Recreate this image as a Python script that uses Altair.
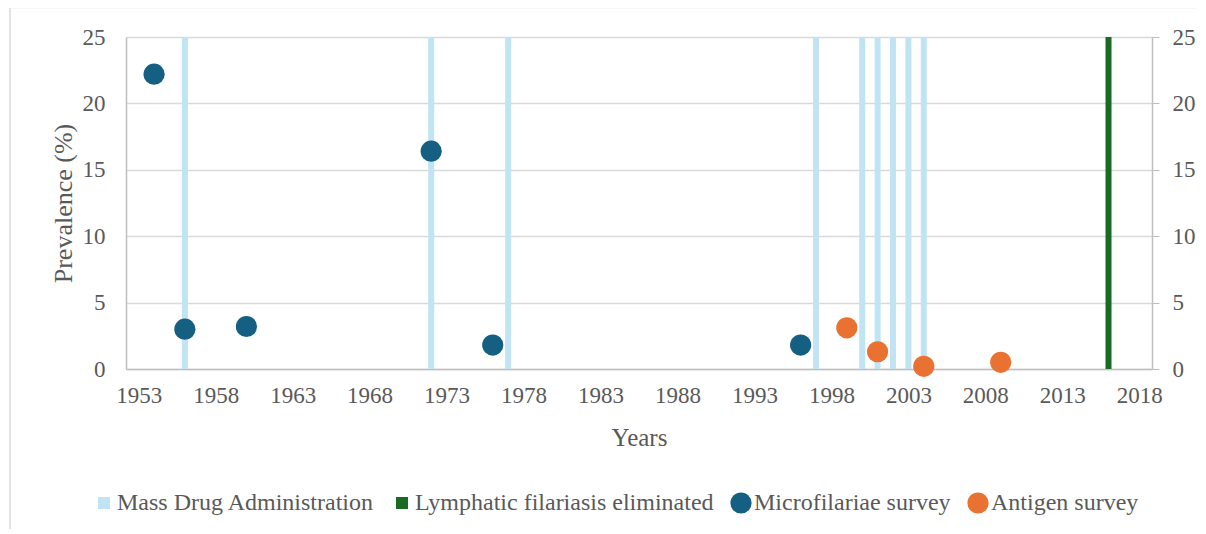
import altair as alt
import pandas as pd

# ---- data ----
mda_years = [1956, 1972, 1977, 1997, 2000, 2001, 2002, 2003, 2004]
mda_height = [25, 25, 25, 25, 25, 25, 25, 25, 25]
elim_years = [2016]
elim_height = [25]
mf_years = [1954, 1956, 1960, 1972, 1976, 1996]
mf_values = [22.2, 3.0, 3.2, 16.4, 1.8, 1.8]
ag_years = [1999, 2001, 2004, 2009]
ag_values = [3.1, 1.3, 0.2, 0.5]

series = ["Mass Drug Administration", "Lymphatic filariasis eliminated",
          "Microfilariae survey", "Antigen survey"]
colors = ["#C1E4F5", "#196B24", "#156082", "#E97132"]
shapes = ["square", "square", "circle", "circle"]
sizes = [144, 144, 450, 450]
x_ticks = list(range(1953, 2019, 5))
y_ticks = [0, 5, 10, 15, 20, 25]

FONT = "Liberation Serif"
GREY = "#595959"

bars_df = pd.DataFrame({
    "year": mda_years + elim_years,
    "value": mda_height + elim_height,
    "series": [series[0]] * len(mda_years) + [series[1]] * len(elim_years),
})
pts_df = pd.DataFrame({
    "year": mf_years + ag_years,
    "value": mf_values + ag_values,
    "series": [series[2]] * len(mf_years) + [series[3]] * len(ag_years),
})

legend = alt.Legend(
    title=None, orient="none", legendX=-34, legendY=454, direction="horizontal",
    columns=4, labelFont=FONT, labelFontSize=24, labelColor=GREY, labelLimit=500,
    labelOffset=1, columnPadding=15, symbolStrokeWidth=0, symbolOpacity=1,
    padding=0,
)
color = alt.Color("series:N", scale=alt.Scale(domain=series, range=colors), legend=legend)
shape = alt.Shape("series:N", scale=alt.Scale(domain=series, range=shapes), legend=legend)
size = alt.Size("series:N", scale=alt.Scale(type="ordinal", domain=series, range=sizes),
                legend=legend)

xenc = alt.X(
    "year:Q",
    scale=alt.Scale(domain=[1952.5, 2018.5], nice=False, zero=False),
    axis=alt.Axis(values=x_ticks, format="d", ticks=False, grid=False,
                  domainColor="#BFBFBF", domainWidth=1.5, labelFont=FONT,
                  labelFontSize=23, labelColor=GREY, labelPadding=15,
                  title="Years", titleFont=FONT, titleFontSize=25,
                  titleFontWeight="normal", titleColor=GREY, titlePadding=18),
)

# chart-area frame (decoration, as in the reference)
frame = alt.Chart(pd.DataFrame({"frame": [0]})).mark_rect(
    fillOpacity=0, stroke="#D9D9D9", strokeWidth=1.5
).encode(
    x=alt.value(-116), x2=alt.value(1200), y=alt.value(-29.5), y2=alt.value(600)
)

bars = alt.Chart(bars_df).mark_bar(size=6, opacity=1).encode(
    x=xenc,
    y=alt.Y("value:Q", scale=alt.Scale(domain=[0, 25], nice=False),
            axis=alt.Axis(orient="right", values=y_ticks, grid=False, ticks=True,
                          tickSize=7, tickColor="#BFBFBF", domainColor="#BFBFBF",
                          domainWidth=1.5, labelFont=FONT, labelFontSize=23,
                          labelColor=GREY, labelPadding=13, title=None)),
    color=color,
)

points = alt.Chart(pts_df).mark_point(filled=True, opacity=1, strokeWidth=0).encode(
    x=xenc,
    y=alt.Y("value:Q", scale=alt.Scale(domain=[0, 25], nice=False),
            axis=alt.Axis(orient="left", values=y_ticks, grid=True,
                          gridColor="#D9D9D9", gridWidth=1.5, ticks=False,
                          domainColor="#BFBFBF", domainWidth=1.5, labelFont=FONT,
                          labelFontSize=23, labelColor=GREY, labelPadding=21,
                          title="Prevalence (%)", titleFont=FONT, titleFontSize=26,
                          titleFontWeight="normal", titleColor=GREY, titlePadding=6)),
    color=color,
    shape=shape,
    size=size,
)

chart = alt.layer(frame, bars, points).resolve_scale(y="independent").properties(
    width=1026, height=332,
    autosize=alt.AutoSizeParams(type="none"),
    padding={"left": 118, "top": 29, "right": 44, "bottom": 160},
    background="white",
).configure_view(strokeWidth=0)

chart.save("out.html", embed_options={"renderer": "svg", "actions": False})
